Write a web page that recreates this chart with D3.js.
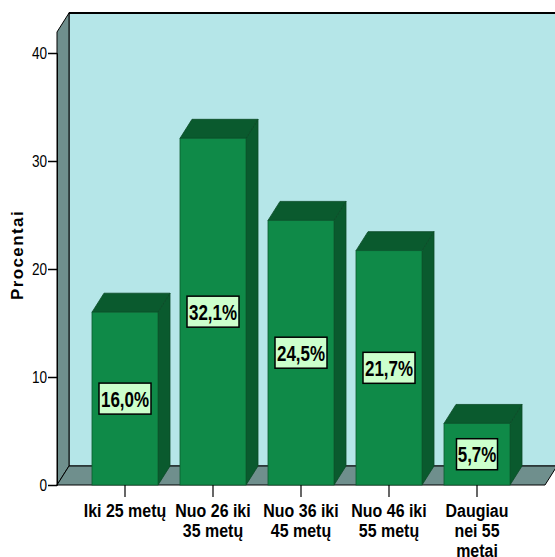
<!DOCTYPE html>
<html><head><meta charset="utf-8">
<script src="https://cdn.jsdelivr.net/npm/d3@7"></script>
<style>body{margin:0;background:#fff}svg{display:block}</style>
</head><body>
<script>
const categories = ["Iki 25 metų", "Nuo 26 iki\n35 metų", "Nuo 36 iki\n45 metų", "Nuo 46 iki\n55 metų", "Daugiau\nnei 55\nmetai"];
const values = [16.0, 32.1, 24.5, 21.7, 5.7];
const valueLabels = ["16,0%", "32,1%", "24,5%", "21,7%", "5,7%"];
const yTicks = [0, 10, 20, 30, 40];
const yTitle = "Procentai";

const W = 555, H = 557;
const DX = 12, DY = -19;
const FONT = "'Liberation Sans',Arial,sans-serif";

const svg = d3.select("body").append("svg").attr("width", W).attr("height", H);

const y = d3.scaleLinear().domain([0, 40]).range([485, 53]);
const x = d3.scaleBand().domain(categories).range([81, 521]).paddingInner(0.25).paddingOuter(0.125);

const x0 = 57, x1 = 545, yTop = 32;
const y0 = y(0);

// back wall
svg.append("rect").attr("x", x0 + DX).attr("y", yTop + DY).attr("width", W - (x0 + DX) + 2).attr("height", y0 + DY - (yTop + DY))
  .attr("fill", "#b5e6e8").attr("stroke", "#000").attr("stroke-width", 1);
svg.append("line").attr("x1", x0 + DX).attr("x2", W).attr("y1", yTop + DY).attr("y2", yTop + DY).attr("stroke", "#000").attr("stroke-width", 2);
// left side wall
svg.append("path").attr("d", `M${x0},${yTop}L${x0 + DX},${yTop + DY}L${x0 + DX},${y0 + DY}L${x0},${y0}Z`)
  .attr("fill", "#6f8f8d").attr("stroke", "#000").attr("stroke-width", 1);
// floor
svg.append("path").attr("d", `M${x0},${y0}L${x0 + DX},${y0 + DY}L${x1 + DX},${y0 + DY}L${x1},${y0}Z`)
  .attr("fill", "#6f8f8d").attr("stroke", "#000").attr("stroke-width", 1);

// bars
const g = svg.append("g");
categories.forEach((c, i) => {
  const bx = x(c), bw = x.bandwidth(), by = y(values[i]);
  g.append("path").attr("d", `M${bx + bw},${by}L${bx + bw + DX},${by + DY}L${bx + bw + DX},${y0 + DY}L${bx + bw},${y0}Z`)
    .attr("fill", "#0a5a2e").attr("stroke", "#0a4a26").attr("stroke-width", 0.8);
  g.append("path").attr("d", `M${bx},${by}L${bx + DX},${by + DY}L${bx + bw + DX},${by + DY}L${bx + bw},${by}Z`)
    .attr("fill", "#0a5a2e").attr("stroke", "#0a4a26").attr("stroke-width", 0.8);
  g.append("rect").attr("x", bx).attr("y", by).attr("width", bw).attr("height", y0 - by)
    .attr("fill", "#0f8a48").attr("stroke", "#0a5a2e").attr("stroke-width", 0.8);
});

// value labels
categories.forEach((c, i) => {
  const cx = x(c) + x.bandwidth() / 2, cy = y(values[i] / 2);
  const lg = svg.append("g").attr("transform", `translate(${cx},${cy})`);
  const bw = valueLabels[i].length > 4 ? 52 : 41;
  lg.append("rect").attr("x", -bw / 2).attr("y", -15.5).attr("width", bw).attr("height", 31)
    .attr("fill", "#ccffcc").attr("stroke", "#000").attr("stroke-width", 1.5);
  lg.append("g").attr("transform", "scale(0.77,1)")
    .append("text").attr("text-anchor", "middle").attr("y", 8)
    .attr("font-family", FONT).attr("font-weight", "bold").attr("font-size", 22)
    .attr("fill", "#000").text(valueLabels[i]);
});

// y axis
const yAxis = svg.append("g").attr("transform", `translate(${x0},0)`)
  .call(d3.axisLeft(y).tickValues(yTicks).tickSize(9).tickFormat(""));
yAxis.select(".domain").attr("stroke", "#000");
yAxis.selectAll(".tick line").attr("stroke", "#000").attr("stroke-width", 1.5);
yTicks.forEach(t => {
  svg.append("g").attr("transform", `translate(47,${y(t) + 6}) scale(0.8,1)`)
    .append("text").attr("text-anchor", "end").attr("font-family", FONT).attr("font-size", 17)
    .attr("fill", "#000").text(d3.format("d")(t));
});

// x axis ticks & labels
const xAxis = svg.append("g").attr("transform", `translate(0,${y0})`)
  .call(d3.axisBottom(x).tickSize(12).tickFormat(""));
xAxis.select(".domain").remove();
xAxis.selectAll(".tick line").attr("stroke", "#000").attr("stroke-width", 1.2);
categories.forEach((c) => {
  const cx = x(c) + x.bandwidth() / 2;
  const t = svg.append("g").attr("transform", `translate(${cx},517) scale(0.84,1)`)
    .append("text").attr("text-anchor", "middle").attr("font-family", FONT).attr("font-weight", "bold")
    .attr("font-size", 19).attr("fill", "#000");
  c.split("\n").forEach((line, j) => {
    t.append("tspan").attr("x", 0).attr("dy", j === 0 ? 0 : 20).text(line);
  });
});

// y title
svg.append("text").attr("transform", "translate(23,255) rotate(-90)").attr("text-anchor", "middle")
  .attr("font-family", FONT).attr("font-weight", "bold").attr("font-size", 17)
  .attr("letter-spacing", 1.4).attr("fill", "#000").text(yTitle);
</script>
</body></html>
